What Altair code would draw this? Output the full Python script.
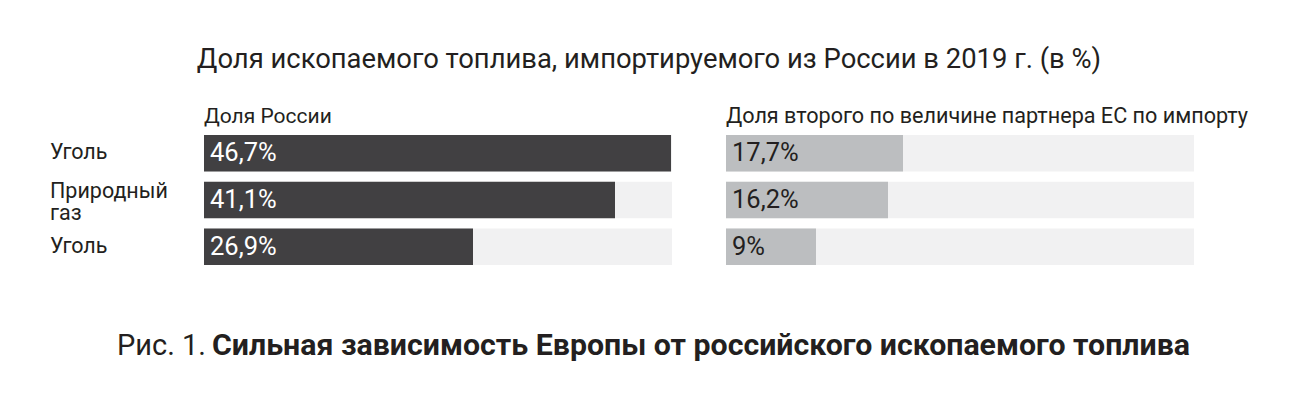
import altair as alt
import pandas as pd

# ---- data ----
categories = ["Уголь", "Природный\nгаз", "Уголь"]
russia_share = [46.7, 41.1, 26.9]
russia_text = ["46,7%", "41,1%", "26,9%"]
partner_share = [17.7, 16.2, 9.0]
partner_text = ["17,7%", "16,2%", "9%"]
track_max = 46.8

title_main = "Доля ископаемого топлива, импортируемого из России в 2019 г. (в %)"
left_title = "Доля России"
right_title = "Доля второго по величине партнера ЕС по импорту"
caption_regular = "Рис. 1."
caption_bold = "Сильная зависимость Европы от российского ископаемого топлива"

FONT = "Roboto"
DARK = "#414042"
LIGHT = "#bcbec0"
TRACK = "#f1f1f2"
INK = "#231f20"

rows = list(range(len(categories)))
df = pd.DataFrame({
    "row": rows,
    "cat": categories,
    "multi": [("\n" in c) for c in categories],
    "ru": russia_share,
    "ru_t": russia_text,
    "pt": partner_share,
    "pt_t": partner_text,
    "track": [track_max] * len(rows),
})

PH = 140
yscale = alt.Scale(paddingInner=0.218, paddingOuter=0.107)
Y = alt.Y("row:O", scale=yscale, axis=None, sort="ascending")
xscale = alt.Scale(domain=[0, track_max], nice=False, zero=True)

base = alt.Chart(df)
first = base.transform_filter("datum.row == 0")
LAB = dict(align="left", baseline="middle", fontSize=21.5, font=FONT,
           color=INK, lineBreak="\n", lineHeight=22)

labels_panel = alt.layer(
    base.transform_filter("!datum.multi").mark_text(**LAB).encode(
        x=alt.value(0), y=Y, text="cat:N"),
    base.transform_filter("datum.multi").mark_text(dy=-8, **LAB).encode(
        x=alt.value(0), y=Y, text="cat:N"),
    first.mark_text(
        align="right", baseline="alphabetic", fontSize=29, font=FONT,
        color=INK).encode(x=alt.value(156), y=alt.value(225),
                          text=alt.value(caption_regular)),
    first.mark_text(
        align="left", baseline="alphabetic", fontSize=30.3, font=FONT,
        fontWeight="bold", color=INK).encode(
        x=alt.value(162), y=alt.value(225), text=alt.value(caption_bold)),
).properties(width=100, height=PH)


def panel(field, tfield, color, tcolor, title, tsize):
    track = base.mark_bar(color=TRACK).encode(
        x=alt.X("track:Q", scale=xscale, axis=None), y=Y)
    bar = base.mark_bar(color=color).encode(
        x=alt.X(f"{field}:Q", scale=xscale, axis=None), y=Y)
    txt = base.mark_text(align="left", baseline="middle", fontSize=25.5,
                         font=FONT, color=tcolor).encode(
        x=alt.value(6), y=Y, text=f"{tfield}:N")
    head = first.mark_text(align="left", baseline="alphabetic",
                           fontSize=tsize, font=FONT, color=INK).encode(
        x=alt.value(0), y=alt.value(-7), text=alt.value(title))
    return alt.layer(track, bar, txt, head).properties(width=468, height=PH)


left = panel("ru", "ru_t", DARK, "white", left_title, 21)
right = panel("pt", "pt_t", LIGHT, INK, right_title, 21.6)

chart = alt.hconcat(labels_panel, left, right, spacing=54, bounds="flush").properties(
    title=alt.TitleParams(title_main, anchor="middle", fontSize=27.4,
                          fontWeight="normal", font=FONT, color=INK,
                          dx=0, offset=33),
    padding={"left": 42, "top": 37, "right": 5, "bottom": 5},
).configure(background="white").configure_view(stroke=None)

chart.save("out.html", embed_options={"renderer": "svg", "actions": False})
